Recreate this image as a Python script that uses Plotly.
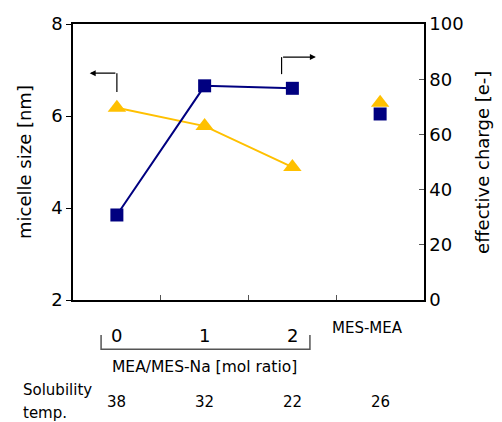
import plotly.graph_objects as go

# ---- data ----
ratio_labels = ["0", "1", "2"]
extra_label = "MES-MEA"
micelle_size = [6.18, 5.78, 4.89]        # nm, left axis (MEA/MES-Na ratios 0,1,2)
micelle_size_mesmea = 6.29
effective_charge = [30.8, 77.6, 76.7]    # e-, right axis
effective_charge_mesmea = 67.4
solubility_temp = ["38", "32", "22", "26"]
left_ticks = [2, 4, 6, 8]
right_ticks = [0, 20, 40, 60, 80, 100]

FONT = "DejaVu Sans"
NAVY = "#000080"
YELLOW = "#FFC000"

xs = [0, 1, 2]
fig = go.Figure()

fig.add_trace(go.Scatter(x=xs, y=micelle_size, mode="lines+markers",
                         line=dict(color=YELLOW, width=2),
                         marker=dict(symbol="triangle-up", size=16, color=YELLOW),
                         yaxis="y", showlegend=False))
fig.add_trace(go.Scatter(x=[3], y=[micelle_size_mesmea], mode="markers",
                         marker=dict(symbol="triangle-up", size=16, color=YELLOW),
                         yaxis="y", showlegend=False))
fig.add_trace(go.Scatter(x=xs, y=effective_charge, mode="lines+markers",
                         line=dict(color=NAVY, width=2),
                         marker=dict(symbol="square", size=13, color=NAVY),
                         yaxis="y2", showlegend=False))
fig.add_trace(go.Scatter(x=[3], y=[effective_charge_mesmea], mode="markers",
                         marker=dict(symbol="square", size=13, color=NAVY),
                         yaxis="y2", showlegend=False))


def txt(x, y, text, size, xref="x", xanchor="center", angle=0):
    return dict(x=x, y=y, xref=xref, yref="paper", text=text, showarrow=False,
                xanchor=xanchor, yanchor="middle", textangle=angle,
                font=dict(size=size, color="black", family=FONT))


ann = []
# category labels under the axis
for i, t in enumerate(ratio_labels):
    ann.append(txt(i, -0.127, t, 18))
ann.append(txt(2.86, -0.103, extra_label, 15))
ann.append(txt(1.0, -0.243, "MEA/MES-Na [mol ratio]", 15.5))
ann.append(txt(-0.149, -0.326, "Solubility", 15, xref="paper", xanchor="left"))
ann.append(txt(-0.149, -0.409, "temp.", 15, xref="paper", xanchor="left"))
for i, t in enumerate(solubility_temp):
    ann.append(txt(i, -0.37, t, 15))

# axis titles
ann.append(txt(-0.1396, 0.5, "micelle size [nm]", 18, xref="paper", angle=-90))
ann.append(txt(1.165, 0.5, "effective charge [e-]", 18, xref="paper", angle=-90))

# indicator arrows
ann.append(dict(x=-0.31, y=6.93, xref="x", yref="y", ax=0, ay=6.93, axref="x", ayref="y",
                text="", showarrow=True, arrowhead=2, arrowsize=1, arrowwidth=1.2,
                arrowcolor="black"))
ann.append(dict(x=2.268, y=7.28, xref="x", yref="y", ax=1.877, ay=7.28, axref="x", ayref="y",
                text="", showarrow=True, arrowhead=2, arrowsize=1, arrowwidth=1.2,
                arrowcolor="black"))

shapes = [
    dict(type="line", xref="x", yref="y", x0=0, x1=0, y0=6.93, y1=6.52,
         line=dict(color="black", width=1.2)),
    dict(type="line", xref="x", yref="y", x0=1.877, x1=1.877, y0=7.28, y1=6.91,
         line=dict(color="black", width=1.2)),
    # bracket
    dict(type="path", xref="x", yref="paper",
         path="M -0.18,-0.127 L -0.18,-0.178 L 2.2,-0.178 L 2.2,-0.127",
         line=dict(color="#555555", width=1.5)),
]

# the page body adds an 8px margin, so the figure is 8px smaller and margins shifted
fig.update_layout(
    width=494, height=414,
    margin=dict(l=65, r=78, t=16, b=122, autoexpand=False),
    paper_bgcolor="white", plot_bgcolor="white",
    font=dict(family=FONT, color="black"),
    xaxis=dict(range=[-0.5, 3.5], tickvals=[0.5, 1.5, 2.5], ticktext=["", "", ""],
               ticks="inside", ticklen=5, tickcolor="#555555", showgrid=False,
               zeroline=False, showline=True, linecolor="black", linewidth=1.5,
               mirror=True, automargin=False),
    yaxis=dict(range=[2, 8], tickvals=left_ticks, ticks="outside", ticklen=5,
               tickcolor="black", showgrid=False, zeroline=False, showline=True,
               linecolor="black", linewidth=1.5, automargin=False,
               tickfont=dict(size=18, family=FONT, color="black")),
    yaxis2=dict(range=[0, 100], tickvals=right_ticks, overlaying="y", side="right",
                ticks="inside", ticklen=5, tickcolor="#555555", showgrid=False,
                zeroline=False, showline=True, linecolor="black", linewidth=1.5,
                automargin=False,
                tickfont=dict(size=18, family=FONT, color="black")),
    annotations=ann,
    shapes=shapes,
)

fig.write_html("out.html")
